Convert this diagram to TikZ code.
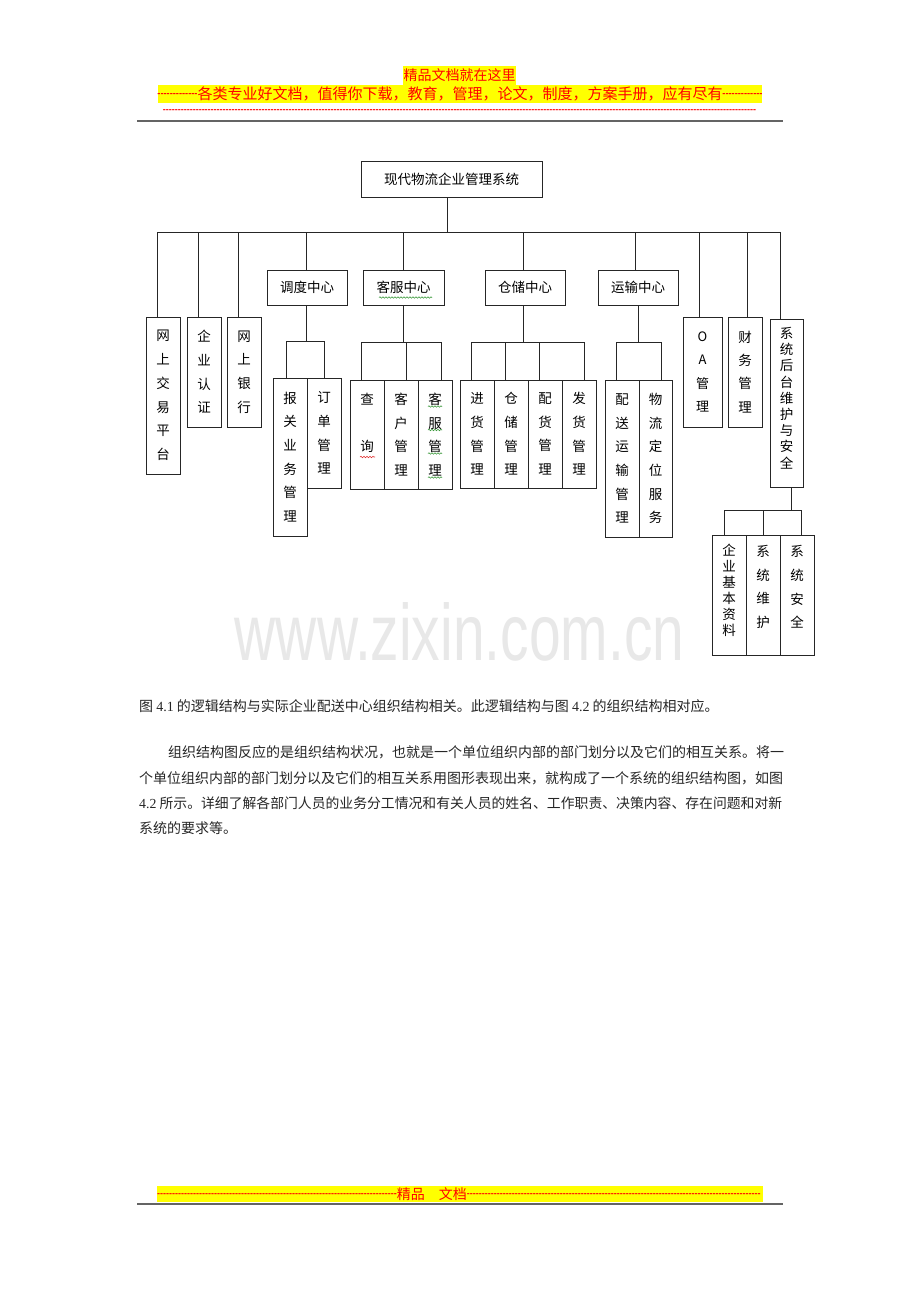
\documentclass[tikz,border=0pt]{standalone}
\usepackage{fontspec}
\usepackage{graphicx}
\usetikzlibrary{decorations.pathmorphing}
\newfontfamily\cjk{Noto Sans CJK SC}
\newfontfamily\lat{Liberation Serif}
\newfontfamily\dsh{Liberation Sans Bold}
\newfontfamily\wmf{Liberation Sans}
\definecolor{hlyellow}{HTML}{FFFF00}
\definecolor{hlred}{HTML}{FF0000}
\definecolor{rulegray}{HTML}{646464}
\definecolor{wmgray}{HTML}{E8E8E8}
\definecolor{spgreen}{HTML}{3C9A3C}
\definecolor{spred}{HTML}{E03030}
\ExplSyntaxOn
\NewDocumentCommand\hyphens{m}{\prg_replicate:nn{#1}{-}}
\ExplSyntaxOff
\begin{document}
\begin{tikzpicture}[x=1pt,y=-1pt,
  box/.style={draw=black!85, line width=0.8pt, inner sep=0pt, outer sep=0pt, anchor=north west},
  conn/.style={draw=black!85, line width=0.8pt},
  ht/.style={font=\cjk\fontsize{13.5}{16}\selectfont, inner sep=0pt},
  vt/.style={font=\cjk\fontsize{13.5}{23.7}\selectfont, align=center, inner sep=0pt},
  vtt/.style={font=\cjk\fontsize{13.5}{16.2}\selectfont, align=center, inner sep=0pt},
  wave/.style={decorate, decoration={snake, amplitude=0.7pt, segment length=3pt}, line width=0.6pt},
  body/.style={font=\cjk\fontsize{14}{14}\selectfont, inner sep=0pt, anchor=base west, text=black!85},
  hdr/.style={inner sep=0pt, text=hlred},
]
\useasboundingbox (0,0) rectangle (920,1302);
\fill[white] (0,0) rectangle (920,1302);

% ---------- header ----------
\fill[hlyellow] (403,66) rectangle (516,85);
\fill[hlyellow] (158,85) rectangle (762,103);
\node[hdr, anchor=base, font=\cjk\fontsize{14}{14}\selectfont] (h1) at (459.5,80.8) {精品文档就在这里};
\node[hdr, anchor=base, font=\cjk\fontsize{15}{15}\selectfont] (h2) at (460,99.2)
  {\raisebox{3.2pt}{\dsh\fontsize{9.25}{9.25}\selectfont\hyphens{13}}各类专业好文档，值得你下载，教育，管理，论文，制度，方案手册，应有尽有\raisebox{3.2pt}{\dsh\fontsize{9.25}{9.25}\selectfont\hyphens{13}}};
\node[hdr, anchor=base, font=\dsh\fontsize{9}{9}\selectfont] (h3) at (459.5,112.4) {\hyphens{198}};
\draw[line width=2pt, rulegray] (137,121) -- (783,121);

% ---------- watermark ----------
\node[inner sep=0pt, anchor=base, text=wmgray, font=\wmf\fontsize{80}{80}\selectfont] (wm) at (459.5,660) {\scalebox{0.712}[1]{www.zixin.com.cn}};

% ---------- top ----------
\node[box, minimum width=181pt, minimum height=36pt] (top) at (361,161) {};
\node[ht] (top-t) at (top.center) {现代物流企业管理系统};

% bus taps
\coordinate (tr) at (447,232);
\coordinate (t1) at (157,232);
\coordinate (t2) at (198,232);
\coordinate (t3) at (238,232);
\coordinate (t4) at (306,232);
\coordinate (t5) at (403,232);
\coordinate (t6) at (523.5,232);
\coordinate (t7) at (635.5,232);
\coordinate (t8) at (699,232);
\coordinate (t9) at (747,232);
\coordinate (t10) at (780,232);

% ---------- level 1 boxes ----------
\node[box, minimum width=34pt, minimum height=157pt] (wsjy) at (146,317) {};
\node[box, minimum width=34pt, minimum height=110pt] (qyrz) at (187,317) {};
\node[box, minimum width=34pt, minimum height=110pt] (wsyh) at (227,317) {};
\node[box, minimum width=80pt, minimum height=35pt] (ddzx) at (267,270) {};
\node[box, minimum width=81pt, minimum height=35pt] (kfzx) at (363,270) {};
\node[box, minimum width=80pt, minimum height=35pt] (cczx) at (485,270) {};
\node[box, minimum width=80pt, minimum height=35pt] (yszx) at (598,270) {};
\node[box, minimum width=39pt, minimum height=110pt] (oa) at (683,317) {};
\node[box, minimum width=34pt, minimum height=110pt] (cw) at (728,317) {};
\node[box, minimum width=33pt, minimum height=168pt] (xtht) at (770,319) {};

\node[vt] (wsjy-t) at (wsjy.center) {网\\上\\交\\易\\平\\台};
\node[vt] (qyrz-t) at (qyrz.center) {企\\业\\认\\证};
\node[vt] (wsyh-t) at (wsyh.center) {网\\上\\银\\行};
\node[ht] (ddzx-t) at (ddzx.center) {调度中心};
\node[ht] (kfzx-t) at (kfzx.center) {客服中心};
\node[ht] (cczx-t) at (cczx.center) {仓储中心};
\node[ht] (yszx-t) at (yszx.center) {运输中心};
\node[vt, font=\cjk\fontsize{13}{23.2}\selectfont] (oa-t) at (oa.center) {O\\A\\管\\理};
\node[vt, font=\cjk\fontsize{13.5}{23.2}\selectfont] (cw-t) at (cw.center) {财\\务\\管\\理};
\node[vtt] (xtht-t) at (786.5,398) {系\\统\\后\\台\\维\\护\\与\\安\\全};

\draw[conn] (tr |- top.south) -- (tr);
\draw[conn] (t1) -- (t10);
\draw[conn] (t1) -- (t1 |- wsjy.north);
\draw[conn] (t2) -- (t2 |- qyrz.north);
\draw[conn] (t3) -- (t3 |- wsyh.north);
\draw[conn] (t4) -- (t4 |- ddzx.north);
\draw[conn] (t5) -- (t5 |- kfzx.north);
\draw[conn] (t6) -- (t6 |- cczx.north);
\draw[conn] (t7) -- (t7 |- yszx.north);
\draw[conn] (t8) -- (t8 |- oa.north);
\draw[conn] (t9) -- (t9 |- cw.north);
\draw[conn] (t10) -- (t10 |- xtht.north);

% ---------- 调度中心 ----------
\node[box, minimum width=34pt, minimum height=158pt] (bgyw) at (273,378) {};
\node[box, minimum width=34pt, minimum height=110pt] (ddgl) at (307,378) {};
\node[vt] (bgyw-t) at (bgyw.center) {报\\关\\业\\务\\管\\理};
\node[vt] (ddgl-t) at (ddgl.center) {订\\单\\管\\理};
\coordinate (dj) at (306,341);
\coordinate (dL) at (286,341);
\coordinate (dR) at (324,341);
\draw[conn] (dj |- ddzx.south) -- (dj);
\draw[conn] (dL) -- (dR);
\draw[conn] (dL) -- (dL |- bgyw.north);
\draw[conn] (dR) -- (dR |- ddgl.north);

% ---------- 客服中心 ----------
\node[box, minimum width=34pt, minimum height=109pt] (cx) at (350,380) {};
\node[box, minimum width=34pt, minimum height=109pt] (khgl) at (384,380) {};
\node[box, minimum width=34pt, minimum height=109pt] (kfgl) at (418,380) {};
\node[vt] (cx-t) at (367,423) {查\\[23pt]询};
\node[vt] (khgl-t) at (khgl.center) {客\\户\\管\\理};
\node[vt] (kfgl-t) at (kfgl.center) {客\\服\\管\\理};
\coordinate (kj) at (403,342);
\coordinate (kL) at (361,342);
\coordinate (kM) at (406,342);
\coordinate (kR) at (441,342);
\draw[conn] (kj |- kfzx.south) -- (kj);
\draw[conn] (kL) -- (kR);
\draw[conn] (kL) -- (kL |- cx.north);
\draw[conn] (kM) -- (kM |- khgl.north);
\draw[conn] (kR) -- (kR |- kfgl.north);

% ---------- 仓储中心 ----------
\node[box, minimum width=34pt, minimum height=108pt] (jhgl) at (460,380) {};
\node[box, minimum width=34pt, minimum height=108pt] (ccgl) at (494,380) {};
\node[box, minimum width=34pt, minimum height=108pt] (phgl) at (528,380) {};
\node[box, minimum width=34pt, minimum height=108pt] (fhgl) at (562,380) {};
\node[vt] (jhgl-t) at (jhgl.center) {进\\货\\管\\理};
\node[vt] (ccgl-t) at (ccgl.center) {仓\\储\\管\\理};
\node[vt] (phgl-t) at (phgl.center) {配\\货\\管\\理};
\node[vt] (fhgl-t) at (fhgl.center) {发\\货\\管\\理};
\coordinate (cj) at (523,342);
\coordinate (c1) at (471,342);
\coordinate (c2) at (505,342);
\coordinate (c3) at (539,342);
\coordinate (c4) at (584,342);
\draw[conn] (cj |- cczx.south) -- (cj);
\draw[conn] (c1) -- (c4);
\draw[conn] (c1) -- (c1 |- jhgl.north);
\draw[conn] (c2) -- (c2 |- ccgl.north);
\draw[conn] (c3) -- (c3 |- phgl.north);
\draw[conn] (c4) -- (c4 |- fhgl.north);

% ---------- 运输中心 ----------
\node[box, minimum width=34pt, minimum height=157pt] (psys) at (605,380) {};
\node[box, minimum width=33pt, minimum height=157pt] (wldw) at (639,380) {};
\node[vt] (psys-t) at (psys.center) {配\\送\\运\\输\\管\\理};
\node[vt] (wldw-t) at (wldw.center) {物\\流\\定\\位\\服\\务};
\coordinate (yj) at (638,342);
\coordinate (y1) at (616,342);
\coordinate (y2) at (661,342);
\draw[conn] (yj |- yszx.south) -- (yj);
\draw[conn] (y1) -- (y2);
\draw[conn] (y1) -- (y1 |- psys.north);
\draw[conn] (y2) -- (y2 |- wldw.north);

% ---------- 系统后台维护与安全 ----------
\node[box, minimum width=34pt, minimum height=120pt] (qyjb) at (712,535) {};
\node[box, minimum width=34pt, minimum height=120pt] (xtwh) at (746,535) {};
\node[box, minimum width=34pt, minimum height=120pt] (xtaq) at (780,535) {};
\node[vtt, font=\cjk\fontsize{13.5}{16}\selectfont] (qyjb-t) at (729,590) {企\\业\\基\\本\\资\\料};
\node[vt] (xtwh-t) at (763,587) {系\\统\\维\\护};
\node[vt] (xtaq-t) at (797,587) {系\\统\\安\\全};
\coordinate (xj) at (791,510);
\coordinate (x1) at (724,510);
\coordinate (x2) at (763,510);
\coordinate (x3) at (801,510);
\draw[conn] (xj |- xtht.south) -- (xj);
\draw[conn] (x1) -- (x3);
\draw[conn] (x1) -- (x1 |- qyjb.north);
\draw[conn] (x2) -- (x2 |- xtwh.north);
\draw[conn] (x3) -- (x3 |- xtaq.north);

% ---------- spell-check marks ----------
\draw[wave, spgreen] (379,297.5) -- (432,297.5);
\draw[wave, spred] (360,457) -- (375,457);
\foreach \yy in {406.5,430,453.5,477.5}
  \draw[wave, spgreen] (428,\yy) -- (442,\yy);

% ---------- body text ----------
\node[body] (p0) at (139,711.3) {图 {\lat 4.1} 的逻辑结构与实际企业配送中心组织结构相关。此逻辑结构与图 {\lat 4.2} 的组织结构相对应。};
\node[body] (p1) at (168,757.3) {组织结构图反应的是组织结构状况，也就是一个单位组织内部的部门划分以及它们的相互关系。将一};
\node[body] (p2) at (139,783.3) {个单位组织内部的部门划分以及它们的相互关系用图形表现出来，就构成了一个系统的组织结构图，如图};
\node[body] (p3) at (139,808.3) {\resizebox{643pt}{!}{{\lat 4.2} 所示。详细了解各部门人员的业务分工情况和有关人员的姓名、工作职责、决策内容、存在问题和对新}};
\node[body] (p4) at (139,833.3) {系统的要求等。};

% ---------- footer ----------
\fill[hlyellow] (157,1186) rectangle (763,1202);
\node[hdr, anchor=base west, font=\cjk\fontsize{14}{14}\selectfont] (f1) at (157,1199.3)
  {\raisebox{2.9pt}{\dsh\fontsize{9}{9}\selectfont\hyphens{80}}精品　文档\raisebox{2.9pt}{\dsh\fontsize{9}{9}\selectfont\hyphens{98}}};
\draw[line width=2pt, rulegray] (137,1204) -- (783,1204);
\end{tikzpicture}
\end{document}
